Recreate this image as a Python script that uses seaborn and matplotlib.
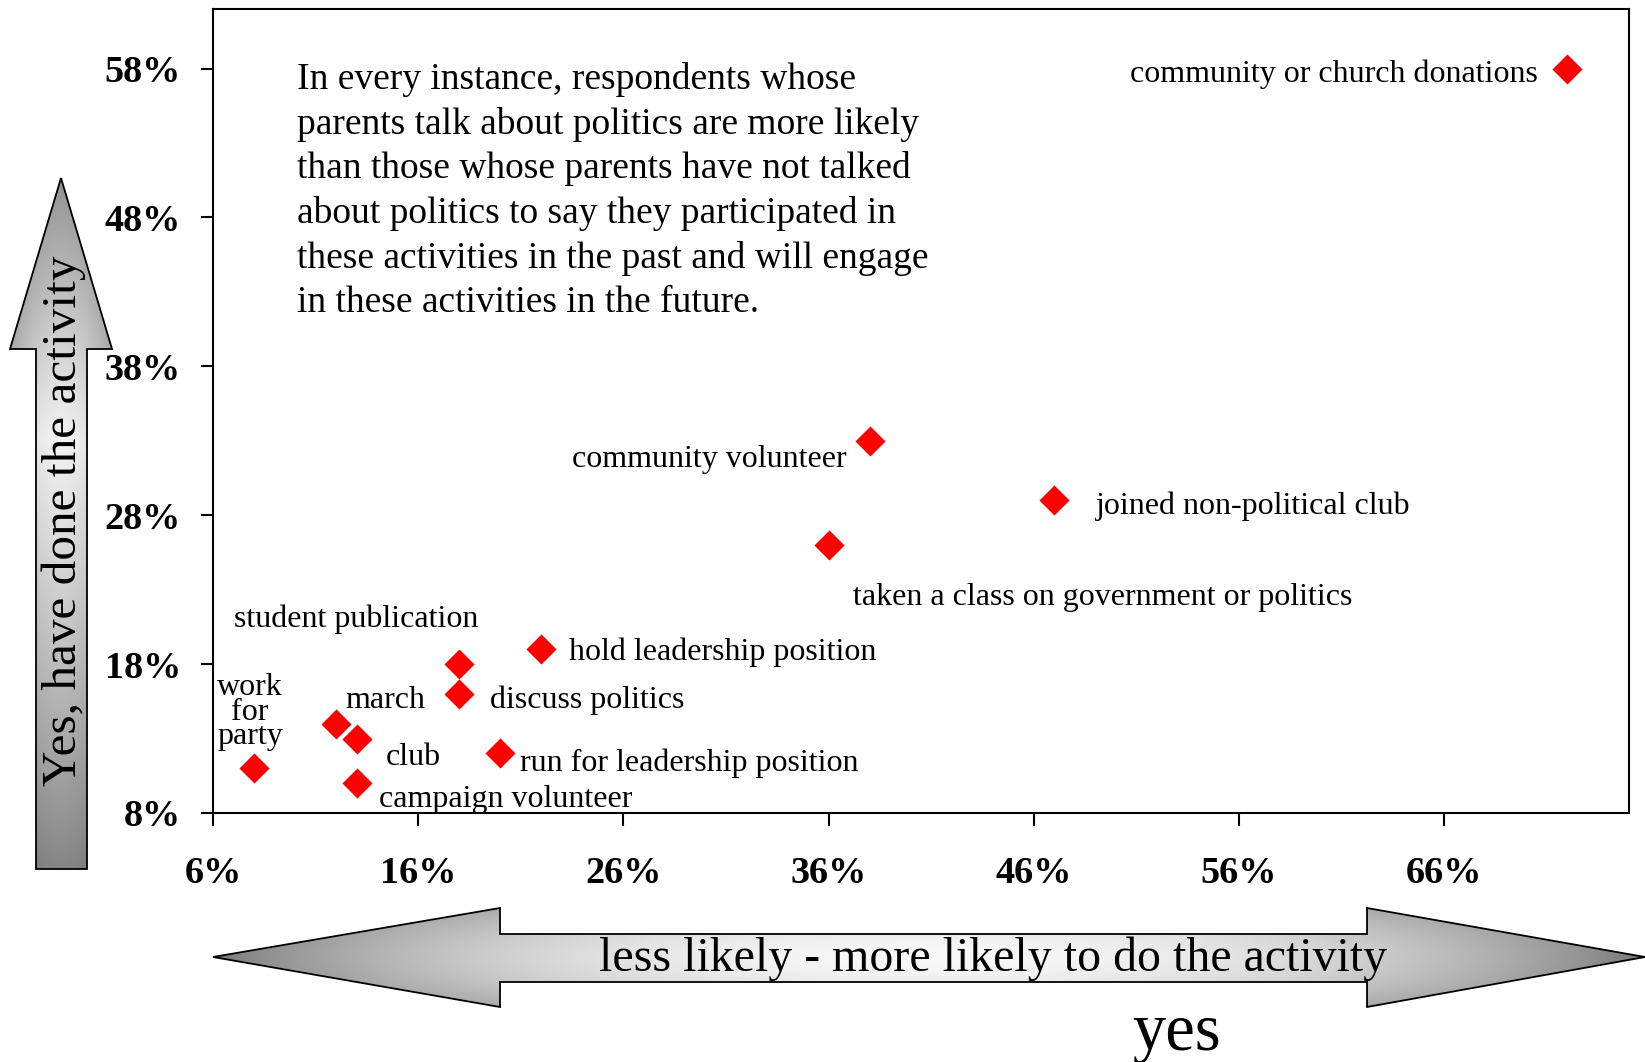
import numpy as np
import pandas as pd
import matplotlib
matplotlib.use("Agg")
import matplotlib.pyplot as plt
import seaborn as sns
from matplotlib.patches import Polygon

# Share of respondents who have done each activity (y) against how much more
# likely they are to do it (x)
activities = [
    "community or church donations",
    "community volunteer",
    "joined non-political club",
    "taken a class on government or politics",
    "hold leadership position",
    "student publication",
    "discuss politics",
    "march",
    "club",
    "work\nfor\nparty",
    "run for leadership position",
    "campaign volunteer",
]
likely_pct = [72, 38, 47, 36, 22, 18, 18, 12, 13, 8, 20, 13]
done_pct = [58, 33, 29, 26, 19, 18, 16, 14, 13, 11, 12, 10]

x_ticks = [6, 16, 26, 36, 46, 56, 66]
y_ticks = [8, 18, 28, 38, 48, 58]

note = ("In every instance, respondents whose\n"
        "parents talk about politics are more likely\n"
        "than those whose parents have not talked\n"
        "about politics to say they participated in\n"
        "these activities in the past and will engage\n"
        "in these activities in the future.")

# label placement: (dx px, dy px, horizontal alignment)
label_place = {
    "community or church donations": (-30, -6, "right"),
    "community volunteer": (-23, -19, "right"),
    "joined non-political club": (42, -6, "left"),
    "taken a class on government or politics": (24, -52, "left"),
    "hold leadership position": (28, -3, "left"),
    "student publication": (-103, 45, "center"),
    "discuss politics": (31, -6, "left"),
    "march": (9, 23, "left"),
    "club": (29, -19, "left"),
    "work\nfor\nparty": (-4, 56, "center"),
    "run for leadership position": (20, -10, "left"),
    "campaign volunteer": (22, -16, "left"),
}

df = pd.DataFrame({"activity": activities, "likely": likely_pct, "done": done_pct})

sns.set_theme(style="ticks")
plt.rcParams["font.family"] = ["Liberation Serif", "DejaVu Serif"]

W, H = 1645, 1062
fig = plt.figure(figsize=(W / 100, H / 100), dpi=100, facecolor="white")

# ---- background layer in pixel coordinates for the shaded arrows ----
bg = fig.add_axes([0, 0, 1, 1], zorder=0)
bg.set_xlim(0, W)
bg.set_ylim(H, 0)
bg.axis("off")


def shaded_arrow(verts, extent, along, across):
    """Fill a polygon with a grey gradient clipped to its outline."""
    x0, x1, y0, y1 = extent
    nx, ny = 400, 400
    xs = np.linspace(0, 1, nx)
    ys = np.linspace(0, 1, ny)
    X, Y = np.meshgrid(xs, ys)
    val = along(X, Y) * across(X, Y)
    img = bg.imshow(val, cmap="gray", vmin=0, vmax=1, extent=(x0, x1, y1, y0),
                    origin="upper", interpolation="bilinear", aspect="auto", zorder=1)
    poly = Polygon(verts, closed=True, facecolor="none", edgecolor="black",
                   linewidth=1.3, zorder=2)
    bg.add_patch(poly)
    img.set_clip_path(poly)


# vertical arrow (tip at top)
v_tip_y, v_base_y, v_bot_y = 178, 349, 869
v_head_l, v_head_r, v_sh_l, v_sh_r = 10, 112, 36, 87
v_cx = (v_head_l + v_head_r) / 2
v_verts = [(v_cx, v_tip_y), (v_head_r, v_base_y), (v_sh_r, v_base_y), (v_sh_r, v_bot_y),
           (v_sh_l, v_bot_y), (v_sh_l, v_base_y), (v_head_l, v_base_y)]


def v_along(X, Y):
    t = 1 - Y  # 0 at bottom, 1 at tip
    peak = 0.62
    return np.where(t < peak, 0.52 + 0.43 * (t / peak) ** 0.9,
                    0.95 - 0.38 * ((t - peak) / (1 - peak)) ** 1.1)


def v_across(X, Y):
    u = (X - 0.5) * 2
    return 1 - 0.22 * u ** 2


shaded_arrow(v_verts, (v_head_l, v_head_r, v_tip_y, v_bot_y), v_along, v_across)

# horizontal double arrow
h_l, h_lb, h_rb, h_r = 213, 500, 1367, 1645
h_cy, h_head_t, h_head_b, h_sh_t, h_sh_b = 957, 908, 1007, 934, 982
h_verts = [(h_l, h_cy), (h_lb, h_head_t), (h_lb, h_sh_t), (h_rb, h_sh_t), (h_rb, h_head_t),
           (h_r, h_cy), (h_rb, h_head_b), (h_rb, h_sh_b), (h_lb, h_sh_b), (h_lb, h_head_b)]


def h_along(X, Y):
    return 0.45 + 0.52 * np.sin(np.pi * X) ** 0.7


def h_across(X, Y):
    u = (Y - 0.5) * 2
    return 1 - 0.18 * u ** 2


shaded_arrow(h_verts, (h_l, h_r, h_head_t, h_head_b), h_along, h_across)

bg.text(64, 521, "Yes, have done the activity", rotation=90, ha="center", va="center",
        fontsize=35.5, color="black", zorder=3)
bg.text(993, 959, "less likely - more likely to do the activity", ha="center", va="center",
        fontsize=34.5, color="black", zorder=3)
bg.text(1177, 1033, "yes", ha="center", va="center", fontsize=48, color="black", zorder=3)
bg.text(297, 62, note, ha="left", va="top", fontsize=27, linespacing=1.36,
        color="black", zorder=3)

# ---- main scatter axes ----
ax_l, ax_r, ax_t, ax_b = 213, 1629, 9, 813
ax = fig.add_axes([ax_l / W, 1 - ax_b / H, (ax_r - ax_l) / W, (ax_b - ax_t) / H], zorder=1)
ax.patch.set_alpha(0)

sns.scatterplot(data=df, x="likely", y="done", marker="D", color="#ff0000", s=235,
                linewidth=0, ax=ax, legend=False, zorder=3)

for name, xv, yv in zip(df["activity"], df["likely"], df["done"]):
    dx, dy, ha = label_place[name]
    ax.annotate(name, (xv, yv), xytext=(dx, dy), textcoords="offset pixels",
                ha=ha, va="center", fontsize=23, linespacing=0.8, color="black")

ax.set_xlim(6, 75)
ax.set_ylim(8, 62)
ax.set_xticks(x_ticks)
ax.set_yticks(y_ticks)
ax.set_xticklabels([f"{v}%" for v in x_ticks], fontweight="bold")
ax.set_yticklabels([f"{v}%" for v in y_ticks], fontweight="bold")
ax.set_xlabel("")
ax.set_ylabel("")
ax.tick_params(axis="both", direction="out", length=9, width=1.5, colors="black",
               labelsize=27.5)
ax.tick_params(axis="x", pad=22)
ax.tick_params(axis="y", pad=14)
for sp in ax.spines.values():
    sp.set_visible(True)
    sp.set_linewidth(1.5)
    sp.set_color("black")

fig.savefig("out.png", dpi=100, facecolor="white")
